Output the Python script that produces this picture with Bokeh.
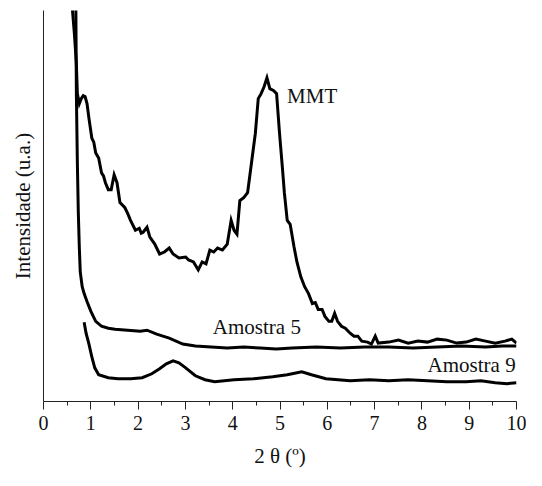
from bokeh.plotting import figure
from bokeh.models import FixedTicker, Range1d
from bokeh.embed import file_html
from bokeh.resources import INLINE
from bokeh.core.properties import value

# 2theta (degrees) and intensity (arbitrary units)
mmt_x = [0.60, 0.613, 0.654, 0.695, 0.716, 0.757, 0.798, 0.839, 0.879, 0.920, 0.961, 1.022, 1.063,
         1.104, 1.166, 1.227, 1.268, 1.309, 1.370, 1.431, 1.493, 1.554, 1.616, 1.718, 1.779, 1.840,
         1.943, 2.025, 2.066, 2.106, 2.188, 2.249, 2.352, 2.454, 2.556, 2.658, 2.740, 2.863, 3.006,
         3.067, 3.170, 3.272, 3.354, 3.436, 3.517, 3.599, 3.681, 3.783, 3.885, 3.967, 4.029, 4.090,
         4.151, 4.233, 4.315, 4.397, 4.479, 4.540, 4.601, 4.663, 4.724, 4.785, 4.867, 4.928, 4.990,
         5.051, 5.092, 5.153, 5.215, 5.297, 5.358, 5.440, 5.521, 5.603, 5.685, 5.746, 5.808, 5.890,
         5.951, 6.033, 6.094, 6.155, 6.217, 6.299, 6.380, 6.483, 6.564, 6.646, 6.728, 6.851, 6.933,
         7.014, 7.076, 7.301, 7.505, 7.710, 7.914, 8.119, 8.323, 8.528, 8.733, 8.937, 9.141, 9.346,
         9.550, 9.755, 9.900, 10.0]
mmt_y = [430, 395, 371, 341, 311, 301, 306, 309, 308, 301, 286, 266, 262,
         251, 246, 231, 228, 221, 214, 214, 229, 221, 201, 196, 190, 183,
         173, 175, 170, 171, 176, 166, 159, 149, 151, 155, 149, 145, 146,
         143, 141, 133, 141, 139, 153, 151, 155, 153, 159, 183, 173, 169,
         203, 206, 211, 241, 271, 306, 311, 318, 327, 316, 314, 311, 271,
         236, 211, 183, 179, 156, 141, 126, 116, 109, 99, 100, 93, 93,
         86, 81, 81, 89, 81, 76, 74, 69, 66, 66, 61, 60, 58,
         66, 59, 60, 62, 59, 61, 60, 63, 62, 59, 60, 63, 61,
         59, 61, 63, 59]

am5_x = [0.68, 0.695, 0.716, 0.736, 0.757, 0.777, 0.818, 0.859, 0.920, 1.002, 1.104, 1.227, 1.370,
         1.513, 1.779, 2.045, 2.188, 2.393, 2.658, 2.945, 3.211, 3.546, 3.885, 4.233, 4.581, 4.920,
         5.256, 5.767, 6.278, 6.790, 7.301, 7.812, 8.323, 8.834, 9.346, 9.700, 10.0]
am5_y = [430, 311, 241, 191, 156, 131, 116, 109, 101, 91, 81, 76, 74,
         73, 72, 71, 72, 68, 64, 58, 56, 55, 54, 55, 54, 53,
         54, 55, 54, 55, 55, 54, 55, 56, 55, 56, 56]

am9_x = [0.859, 0.900, 0.961, 1.022, 1.084, 1.166, 1.370, 1.575, 1.840, 2.086, 2.290, 2.454, 2.597,
         2.740, 2.863, 3.006, 3.211, 3.415, 3.620, 4.029, 4.438, 4.847, 5.153, 5.460, 5.665, 5.971,
         6.483, 6.892, 7.301, 7.710, 8.119, 8.528, 8.937, 9.246, 9.550, 9.800, 10.0]
am9_y = [80, 69, 58, 45, 34, 27, 24, 23, 23, 24, 28, 33, 38,
         41, 39, 34, 26, 22, 20, 22, 23, 25, 27, 30, 27, 23,
         21, 22, 21, 22, 21, 20, 20, 21, 19, 18, 19]

labels = ["MMT", "Amostra 5", "Amostra 9"]
label_x = [5.15, 3.58, 8.12]
label_y = [309, 75, 37]

x_ticks = list(range(0, 11))

FONT = "Liberation Serif"

p = figure(width=526, height=470, output_backend="svg", toolbar_location=None,
           x_range=Range1d(0, 10), y_range=Range1d(0, 395),
           min_border_left=43, min_border_right=10, min_border_top=10, min_border_bottom=68)
p.outline_line_color = None
p.xgrid.visible = False
p.ygrid.visible = False
p.background_fill_color = "white"

for xs, ys in [(mmt_x, mmt_y), (am5_x, am5_y), (am9_x, am9_y)]:
    p.line(xs, ys, line_color="black", line_width=3, line_join="miter")

p.text(x=label_x, y=label_y, text=labels, text_font=value(FONT), text_font_size="21px",
       text_align="left", text_baseline="middle", text_color="#111111")

# x axis
p.xaxis.ticker = FixedTicker(ticks=x_ticks, minor_ticks=[i + 0.5 for i in range(10)])
p.xaxis.major_tick_out = 8
p.xaxis.major_tick_in = 0
p.xaxis.minor_tick_out = 4
p.xaxis.minor_tick_in = 0
p.xaxis.axis_line_color = "#222222"
p.xaxis.major_tick_line_color = "#222222"
p.xaxis.minor_tick_line_color = "#222222"
p.xaxis.major_label_text_font = FONT
p.xaxis.major_label_text_font_size = "20px"
p.xaxis.major_label_text_color = "#111111"
p.xaxis.major_label_standoff = 6
p.xaxis.axis_label = "2 θ (º)"
p.xaxis.axis_label_text_font = FONT
p.xaxis.axis_label_text_font_size = "21px"
p.xaxis.axis_label_text_font_style = "normal"
p.xaxis.axis_label_text_color = "#111111"
p.xaxis.axis_label_standoff = 11

# y axis
p.yaxis.ticker = FixedTicker(ticks=[])
p.yaxis.major_tick_out = 0
p.yaxis.major_tick_in = 0
p.yaxis.minor_tick_out = 0
p.yaxis.minor_tick_in = 0
p.yaxis.axis_line_color = "#222222"
p.yaxis.axis_label = "Intensidade (u.a.)"
p.yaxis.axis_label_text_font = FONT
p.yaxis.axis_label_text_font_size = "21px"
p.yaxis.axis_label_text_font_style = "normal"
p.yaxis.axis_label_text_color = "#111111"
p.yaxis.axis_label_standoff = 9

open("out.html", "w").write(file_html(p, INLINE))
